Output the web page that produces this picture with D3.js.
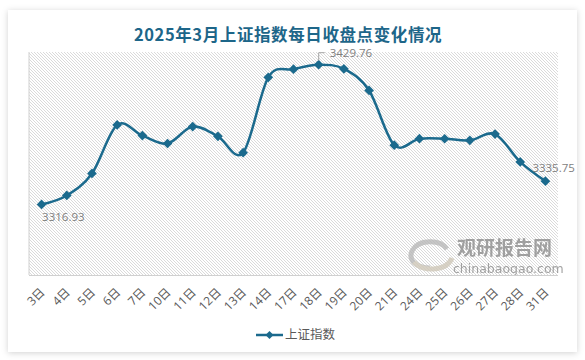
<!DOCTYPE html>
<html>
<head>
<meta charset="utf-8">
<script src="https://cdn.jsdelivr.net/npm/d3@7"></script>
<style>
  html, body { margin: 0; padding: 0; background: #fff; }
  #chart { width: 585px; height: 360px; }
</style>
</head>
<body>
<div id="chart"></div>
<script>
// March 2025 daily closes of the SSE Composite
const days = ['3日', '4日', '5日', '6日', '7日', '10日', '11日', '12日', '13日', '14日',
  '17日', '18日', '19日', '20日', '21日', '24日', '25日', '26日', '27日', '28日', '31日']
const closes = [3316.93, 3324.21, 3341.96, 3381.10, 3372.55, 3366.16, 3379.83, 3371.92, 3358.73, 3419.56,
  3426.13, 3429.76, 3426.43, 3408.95, 3364.83, 3370.03, 3369.98, 3368.70, 3373.75, 3351.31, 3335.75]
const seriesName = '上证指数'
const yDomain = [3260, 3440]

const width = 585
const height = 360
const plot = { left: 29, right: 558, top: 52, bottom: 275 }

const lineColor = '#1b6a8d'
const labelFont = '"Open Sans", "Noto Sans CJK SC", sans-serif'

const svg = d3.select('#chart')
  .append('svg')
  .attr('width', width)
  .attr('height', height)

const defs = svg.append('defs')

// soft card shadow
const shadow = defs.append('filter')
  .attr('id', 'shadow')
  .attr('x', '-5%').attr('y', '-5%')
  .attr('width', '110%').attr('height', '110%')
shadow.append('feDropShadow')
  .attr('dx', 0).attr('dy', 1)
  .attr('stdDeviation', 3)
  .attr('flood-color', '#000')
  .attr('flood-opacity', 0.18)

// diagonal hatch for the plot area
const hatch = defs.append('pattern')
  .attr('id', 'hatch')
  .attr('patternUnits', 'userSpaceOnUse')
  .attr('width', 3).attr('height', 3)
hatch.append('rect').attr('width', 3).attr('height', 3).attr('fill', '#fff')
hatch.append('path')
  .attr('d', 'M-1,-1L4,4M-1,2L1,4M2,-1L4,1')
  .attr('stroke', '#d6d6d6')
  .attr('stroke-width', 0.9)

svg.append('rect')
  .attr('x', 8).attr('y', 10)
  .attr('width', 569).attr('height', 342)
  .attr('fill', '#fff')
  .attr('filter', 'url(#shadow)')

// title
svg.append('text')
  .attr('x', 288)
  .attr('y', 41)
  .attr('text-anchor', 'middle')
  .attr('font-family', '"Noto Sans CJK SC", sans-serif')
  .attr('font-weight', 'bold')
  .attr('font-size', '16.5px')
  .attr('letter-spacing', '0.6px')
  .attr('fill', '#1d6689')
  .text('2025年3月上证指数每日收盘点变化情况')

// scales
const x = d3.scaleBand()
  .domain(days)
  .range([plot.left, plot.right])

const y = d3.scaleLinear()
  .domain(yDomain)
  .range([plot.bottom, plot.top])

const cx = d => x(d) + x.bandwidth() / 2

// plot background
svg.append('rect')
  .attr('x', plot.left)
  .attr('y', plot.top)
  .attr('width', plot.right - plot.left)
  .attr('height', plot.bottom - plot.top)
  .attr('fill', 'url(#hatch)')

// watermark
const wm = svg.append('g').attr('opacity', 0.8)
wm.append('path')
  .attr('d', 'M447,249 C440,239 418,239 412,251 C408,260 416,268 430,268')
  .attr('fill', 'none').attr('stroke', '#b8b8b8').attr('stroke-width', 5)
wm.append('path')
  .attr('d', 'M414,262 C422,272 446,272 452,258')
  .attr('fill', 'none').attr('stroke', '#cfc8b8').attr('stroke-width', 5)
wm.append('text')
  .attr('x', 457).attr('y', 255)
  .attr('font-family', '"Noto Sans CJK SC", sans-serif')
  .attr('font-weight', 'bold')
  .attr('font-size', '19px')
  .attr('fill', '#8c8c8c')
  .text('观研报告网')
wm.append('text')
  .attr('x', 453).attr('y', 273)
  .attr('font-family', '"DejaVu Sans", sans-serif')
  .attr('font-size', '12.5px')
  .attr('fill', '#8c8c8c')
  .text('chinabaogao.com')

// axis lines (left + bottom)
svg.append('line')
  .attr('x1', plot.left).attr('x2', plot.left)
  .attr('y1', plot.top).attr('y2', plot.bottom)
  .attr('stroke', '#d0d0d0')
svg.append('line')
  .attr('x1', plot.left).attr('x2', plot.right)
  .attr('y1', plot.bottom + 0.5).attr('y2', plot.bottom + 0.5)
  .attr('stroke', '#d0d0d0')

// x axis labels
const xAxis = svg.append('g')
  .attr('transform', `translate(0,${plot.bottom + 15})`)
  .call(d3.axisBottom(x).tickSize(0).tickPadding(0))
xAxis.select('.domain').remove()
xAxis.selectAll('text')
  .attr('font-family', labelFont)
  .attr('font-size', '12px')
  .attr('fill', '#595959')
  .attr('text-anchor', 'end')
  .attr('dy', '0.35em')
  .attr('transform', 'translate(1,0) rotate(-45)')

// smoothed line
const data = days.map((d, i) => ({ day: d, value: closes[i] }))
const line = d3.line()
  .x(d => cx(d.day))
  .y(d => y(d.value))
  .curve(d3.curveCatmullRom.alpha(0))

svg.append('path')
  .datum(data)
  .attr('d', line)
  .attr('fill', 'none')
  .attr('stroke', lineColor)
  .attr('stroke-width', 2.5)

const diamond = d3.symbol().type(d3.symbolDiamond2).size(60)

svg.append('g')
  .selectAll('path')
  .data(data)
  .join('path')
  .attr('d', diamond)
  .attr('transform', d => `translate(${cx(d.day)},${y(d.value)})`)
  .attr('fill', lineColor)

// data labels: first, max, last
const first = data[0]
const last = data[data.length - 1]
const peak = data.reduce((a, b) => (b.value > a.value ? b : a))

const labelStyle = sel => sel
  .attr('font-family', labelFont)
  .attr('font-size', '11.5px')
  .attr('fill', '#7f7f7f')

svg.append('text')
  .attr('x', cx(first.day) + 0.5)
  .attr('y', y(first.value) + 17)
  .call(labelStyle)
  .text(first.value.toFixed(2))

svg.append('path')
  .attr('d', `M${cx(peak.day)},${y(peak.value) - 4}V${y(peak.value) - 12}H${cx(peak.day) + 6}`)
  .attr('fill', 'none')
  .attr('stroke', '#a6a6a6')
svg.append('text')
  .attr('x', cx(peak.day) + 11)
  .attr('y', y(peak.value) - 8)
  .call(labelStyle)
  .text(peak.value.toFixed(2))

svg.append('text')
  .attr('x', cx(last.day) - 13)
  .attr('y', y(last.value) - 9)
  .call(labelStyle)
  .text(last.value.toFixed(2))

// legend
const legend = svg.append('g').attr('transform', 'translate(256,335)')
legend.append('line')
  .attr('x1', 0).attr('x2', 27)
  .attr('stroke', lineColor)
  .attr('stroke-width', 2.5)
legend.append('path')
  .attr('d', d3.symbol().type(d3.symbolDiamond2).size(40))
  .attr('transform', 'translate(13.5,0)')
  .attr('fill', lineColor)
legend.append('text')
  .attr('x', 29)
  .attr('dy', '0.35em')
  .attr('font-family', '"Noto Sans CJK SC", sans-serif')
  .attr('font-size', '12.5px')
  .attr('fill', '#595959')
  .text(seriesName)
</script>
</body>
</html>
